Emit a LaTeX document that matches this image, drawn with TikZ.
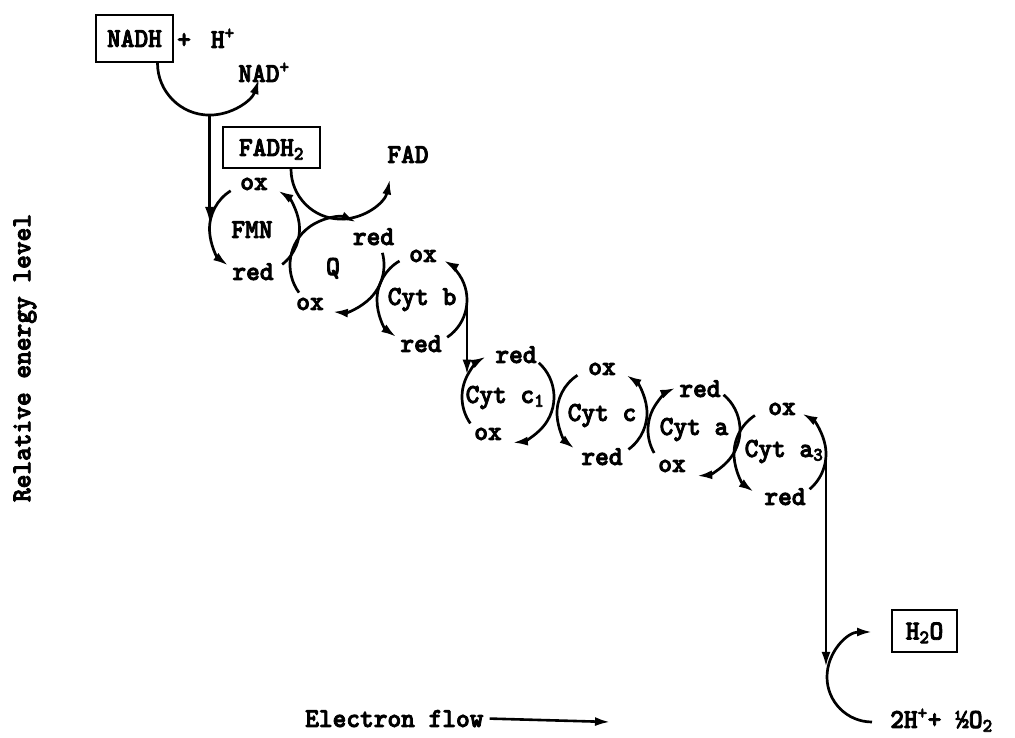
\documentclass[tikz,border=0pt]{standalone}
\usepackage{fontspec}
\newfontfamily\labfont{lmmonolt10-bold}[Extension=.otf, FakeStretch=0.95, FakeBold=3]
\usetikzlibrary{calc,arrows.meta}
\begin{document}
\begin{tikzpicture}[x=1pt,y=1pt,
  every node/.style={font=\labfont\fontsize{27.5}{30}\selectfont, inner sep=0pt},
  lbl/.style={anchor=base},
  boxed/.style={draw, line width=2.2pt, text height=17pt, text depth=0pt},
  arr/.style={line width=2.7pt, -{Latex[length=15pt,width=9pt]}},
  vline/.style={line width=2.6pt, -{Latex[length=15pt,width=9pt]}},
]
\useasboundingbox (0,0) rectangle (1015,738);

% --- texts and boxes
\node[boxed, minimum width=77pt, minimum height=47pt] (nadh) at (134.5,699.5) {NADH};
\node[anchor=base west] (hplus) at (177,690) {+\hspace{20pt}H\textsuperscript{+}};
\node[lbl] (nad) at (264,656) {NAD\textsuperscript{+}};
\node[boxed, minimum width=97pt, minimum height=41pt] (fadh) at (271.5,590.5) {FADH\textsubscript{2}};
\node[lbl] (fad) at (408,575) {FAD};

\node[lbl] (fmn) at (252,500) {FMN};
\node[lbl] (q) at (333,463) {Q};
\node[lbl] (cytb) at (422,433) {Cyt b};
\node[lbl] (cytc1) at (505,335) {Cyt c\textsubscript{1}};
\node[lbl] (cytc) at (602,317) {Cyt c};
\node[lbl] (cyta) at (694,303) {Cyt a};
\node[lbl] (cyta3) at (784,281) {Cyt a\textsubscript{3}};

\node[boxed, minimum width=65pt, minimum height=42pt] (h2o) at (924.5,107) {H\textsubscript{2}O};
\node[anchor=base west] (o2) at (890,10) {2H\textsuperscript{+}+ ½O\textsubscript{2}};

% ox / red labels
\node[lbl] (fmnox) at (254,548) {ox};
\node[lbl] (fmnred) at (253,458) {red};
\node[lbl] (qred) at (373.5,493) {red};
\node[lbl] (qox) at (310,428) {ox};
\node[lbl] (box) at (423,476) {ox};
\node[lbl] (bred) at (421,386) {red};
\node[lbl] (c1red) at (516,375) {red};
\node[lbl] (c1ox) at (488,298) {ox};
\node[lbl] (cox) at (602,363) {ox};
\node[lbl] (cred) at (602,273) {red};
\node[lbl] (ared) at (700,341) {red};
\node[lbl] (aox) at (672,266) {ox};
\node[lbl] (a3ox) at (782,323) {ox};
\node[lbl] (a3red) at (785,233) {red};

\node[lbl, anchor=base west] (ef) at (305,11) {Electron flow};
\node[rotate=90] (rel) at (25,380) {Relative energy level};

% --- centres of the redox cycles
\coordinate (fmnC) at (254.5,509);
\coordinate (qC) at (337,473);
\coordinate (bC) at (422,438);
\coordinate (c1C) at (508,341);
\coordinate (cC) at (602,325);
\coordinate (aC) at (694,308);
\coordinate (a3C) at (780,284);
\coordinate (o2C) at (872,61);

% NADH -> NAD+
\coordinate (nadhS) at ($(nadh.south)+(23,0)$);
\draw[arr] (nadhS) arc[start angle=180, end angle=342, radius=52pt];
\coordinate (nadhB) at ($(nadhS)+(52,-52)$);
\coordinate (fmnIn) at ($(fmnC)+(0,7)$);
\draw[vline] (nadhB) -- (nadhB |- fmnIn);

% FADH2 -> FAD
\draw[arr] ($(fadh.south)+(19.5,0)$) arc[start angle=180, end angle=348, radius=50pt];

% FMN
\draw[arr] ($(fmnC)+(122:45pt)$) arc[start angle=122, end angle=234, radius=45pt];
\draw[arr] ($(fmnC)+(-52:45pt)$) arc[start angle=-52, end angle=58, radius=45pt];
% Q
\draw[arr] ($(qC)+(216:47pt)$) arc[start angle=216, end angle=66, radius=47pt];
\draw[arr] ($(qC)+(15:47pt)$) arc[start angle=15, end angle=-95, radius=47pt];
% Cyt b
\draw[arr] ($(bC)+(120:45pt)$) arc[start angle=120, end angle=235, radius=45pt];
\draw[arr] ($(bC)+(-56:45pt)$) arc[start angle=-56, end angle=61, radius=45pt];
\coordinate (bR) at ($(bC)+(0:45pt)$);
\coordinate (c1In) at ($(c1C)+(151:46pt)$);
\draw[vline] (bR) -- (bR |- c1In);
% Cyt c1
\draw[arr] ($(c1C)+(215:46pt)$) arc[start angle=215, end angle=119, radius=46pt];
\draw[arr] ($(c1C)+(48:46pt)$) arc[start angle=48, end angle=-84, radius=46pt];
% Cyt c
\draw[arr] ($(cC)+(123:45pt)$) arc[start angle=123, end angle=232, radius=45pt];
\draw[arr] ($(cC)+(-54:45pt)$) arc[start angle=-54, end angle=57, radius=45pt];
% Cyt a
\draw[arr] ($(aC)+(210:46pt)$) arc[start angle=210, end angle=114, radius=46pt];
\draw[arr] ($(aC)+(50:46pt)$) arc[start angle=50, end angle=-86, radius=46pt];
% Cyt a3
\draw[arr] ($(a3C)+(123:46pt)$) arc[start angle=123, end angle=235, radius=46pt];
\draw[arr] ($(a3C)+(-50:46pt)$) arc[start angle=-50, end angle=61, radius=46pt];
\coordinate (a3R) at ($(a3C)+(0:46pt)$);
\coordinate (o2In) at ($(o2C)+(167:45pt)$);
\draw[vline] (a3R) -- (a3R |- o2In);
% 2H+ + 1/2 O2 -> H2O
\draw[arr] ($(o2C)+(270:45pt)$) arc[start angle=270, end angle=90, radius=45pt];

% electron flow arrow
\coordinate (efEnd) at (610,16);
\draw[vline] ($(ef.east)+(6,0)$ |- efEnd) -- (efEnd);
\end{tikzpicture}
\end{document}
